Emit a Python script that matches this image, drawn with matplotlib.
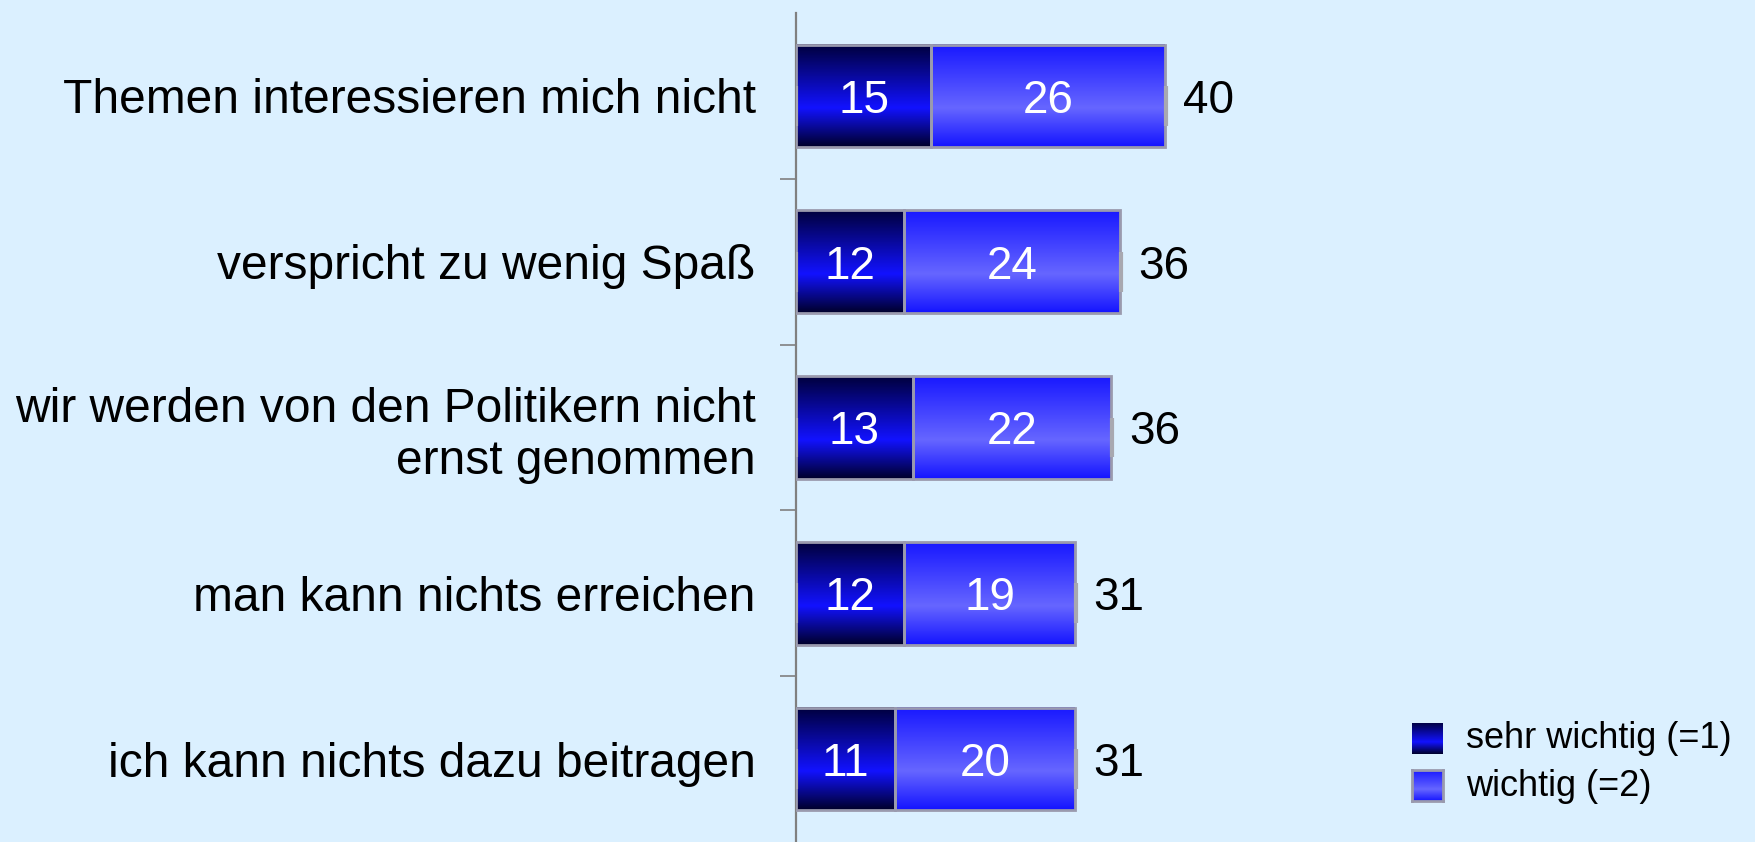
import matplotlib
matplotlib.use('Agg')
import matplotlib.pyplot as plt
from matplotlib.colors import LinearSegmentedColormap
import numpy as np

plt.rcParams['font.family'] = ['Liberation Sans', 'DejaVu Sans']

categories = ['Themen interessieren mich nicht',
              'verspricht zu wenig Spaß',
              'wir werden von den Politikern nicht\nernst genommen',
              'man kann nichts erreichen',
              'ich kann nichts dazu beitragen']
sehrWichtig = [15, 12, 13, 12, 11]
wichtig = [26, 24, 22, 19, 20]
totals = [40, 36, 36, 31, 31]
seriesNames = ['sehr wichtig (=1)', 'wichtig (=2)']

bg = '#dbf0ff'
edgeGray = '#9a9aae'

# vertical gradients (top -> bottom)
darkMap = LinearSegmentedColormap.from_list('dark', [(0, '#00003c'), (0.62, '#1212ff'), (1, '#00002a')])
lightMap = LinearSegmentedColormap.from_list('light', [(0, '#1818ff'), (0.62, '#6666ff'), (1, '#1414ff')])
gradient = np.linspace(0, 1, 256).reshape(-1, 1)

fig = plt.figure(figsize=(17.55, 8.42), dpi=100, facecolor=bg)
ax = fig.add_axes([796 / 1755, 0, 1 - 796 / 1755, 829 / 842])
ax.set_facecolor(bg)

pos = np.arange(len(categories))
pxPerUnit = 9.0
xmax = (1755 - 796) / pxPerUnit

barHeight = 0.62
bars1 = ax.barh(pos, sehrWichtig, height=barHeight, color='none', edgecolor=edgeGray, linewidth=2, zorder=3)
bars2 = ax.barh(pos, wichtig, left=sehrWichtig, height=barHeight, color='none', edgecolor=edgeGray, linewidth=2, zorder=3)

def fillGradient(bars, cmap):
	for b in bars:
		x0, y0, w, h = b.get_x(), b.get_y(), b.get_width(), b.get_height()
		ax.imshow(gradient, cmap=cmap, aspect='auto', extent=(x0, x0 + w, y0 + h, y0),
		          origin='upper', zorder=2, interpolation='bilinear')

fillGradient(bars1, darkMap)
fillGradient(bars2, lightMap)

# small grey marks at both bar ends
ends = np.array(sehrWichtig) + np.array(wichtig)
ax.vlines(ends + 0.1, pos - 0.06, pos + 0.18, color='#a8a8b0', linewidth=3, zorder=3)
ax.vlines(np.zeros(len(pos)) - 0.05, pos - 0.06, pos + 0.18, color='#a8a8b0', linewidth=3, zorder=3)

ax.set_xlim(0, xmax)
ax.set_ylim(len(categories) - 0.5, -0.5)

for i in range(len(categories)):
	ax.text(sehrWichtig[i] / 2, pos[i], str(sehrWichtig[i]), ha='center', va='center_baseline',
	        color='white', fontsize=33, zorder=4)
	ax.text(sehrWichtig[i] + wichtig[i] / 2, pos[i], str(wichtig[i]), ha='center', va='center_baseline',
	        color='white', fontsize=33, zorder=4)
	ax.annotate(str(totals[i]), (ends[i], pos[i]), xytext=(13, 0),
	            textcoords='offset points', ha='left', va='center_baseline', fontsize=33, color='black')

for side in ['top', 'right', 'bottom']:
	ax.spines[side].set_visible(False)
ax.spines['left'].set_color('#808080')
ax.spines['left'].set_linewidth(1.6)
ax.set_xticks([])
ax.set_yticks(pos)
ax.set_yticklabels(categories, fontsize=34.5)
ax.tick_params(axis='y', which='major', length=0, pad=29)
ax.set_yticks(pos[:-1] + 0.5, minor=True)
ax.tick_params(axis='y', which='minor', length=11.5, width=1.2, color='#808080', direction='out')

# legend with gradient swatches
legendRows = [(723, darkMap, 'none'), (770, lightMap, edgeGray)]
for (top, cmap, edge), name in zip(legendRows, seriesNames):
	sw = fig.add_axes([1412 / 1755, 1 - (top + 31) / 842, 31 / 1755, 31 / 842])
	sw.imshow(gradient, cmap=cmap, aspect='auto')
	sw.set_xticks([])
	sw.set_yticks([])
	for s in sw.spines.values():
		s.set_visible(edge != 'none')
		s.set_color(edge)
		s.set_linewidth(2)
	fig.text(1466 / 1755, 1 - (top + 16) / 842, name, fontsize=26, ha='left', va='center')

fig.savefig('out.png', dpi=100, facecolor=bg)
